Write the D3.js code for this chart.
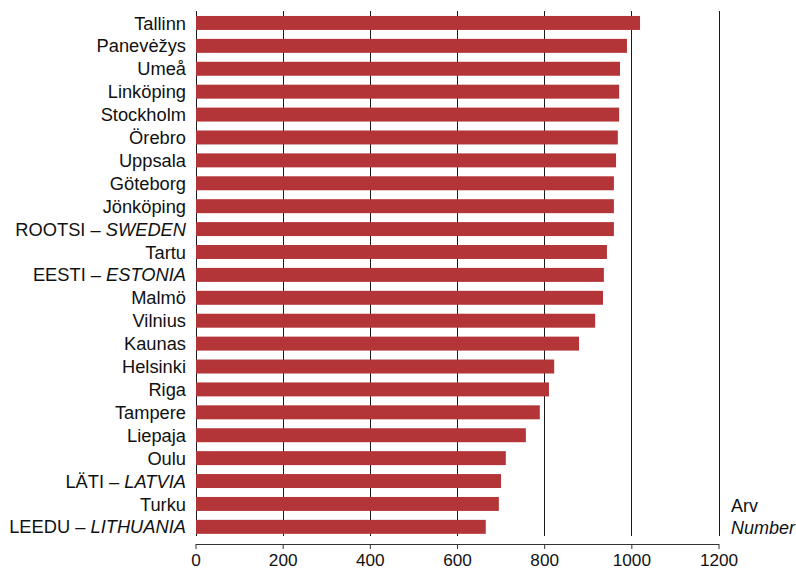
<!DOCTYPE html>
<html>
<head>
<meta charset="utf-8">
<script src="https://cdn.jsdelivr.net/npm/d3@7"></script>
<style>
  html, body { margin: 0; padding: 0; background: #fff; }
  svg { display: block; font-family: "Liberation Sans", Arial, sans-serif; }
</style>
</head>
<body>
<svg id="chart" width="796" height="570"></svg>
<script>
// Category names: [normal part, italic part]
const categories = [
  ["Tallinn", ""],
  ["Panevėžys", ""],
  ["Umeå", ""],
  ["Linköping", ""],
  ["Stockholm", ""],
  ["Örebro", ""],
  ["Uppsala", ""],
  ["Göteborg", ""],
  ["Jönköping", ""],
  ["ROOTSI – ", "SWEDEN"],
  ["Tartu", ""],
  ["EESTI – ", "ESTONIA"],
  ["Malmö", ""],
  ["Vilnius", ""],
  ["Kaunas", ""],
  ["Helsinki", ""],
  ["Riga", ""],
  ["Tampere", ""],
  ["Liepaja", ""],
  ["Oulu", ""],
  ["LÄTI – ", "LATVIA"],
  ["Turku", ""],
  ["LEEDU – ", "LITHUANIA"]
];
const values = [1020, 990, 974, 972, 972, 969, 965, 960, 960, 960, 944, 937, 935, 917, 880, 823, 811, 790, 758, 712, 701, 696, 666];
const xTicks = [0, 200, 400, 600, 800, 1000, 1200];
const unitLabel = ["Arv", "Number"];

const svg = d3.select("#chart");
const x = d3.scaleLinear().domain([0, 1200]).range([195.5, 718.5]);
const keys = categories.map(c => c[0] + c[1]);
const y = d3.scaleBand().domain(keys).range([11.5, 538.3]).paddingInner(0.39).paddingOuter(0.195);

// gridlines
svg.append("g").selectAll("line").data(xTicks).join("line")
  .attr("x1", d => Math.round(x(d)) + 0.5).attr("x2", d => Math.round(x(d)) + 0.5)
  .attr("y1", 11).attr("y2", 536)
  .attr("stroke", "#1a1a1a").attr("stroke-width", 1);

// bars
svg.append("g").selectAll("rect").data(values).join("rect")
  .attr("x", x(0) + 0.5)
  .attr("y", (d, i) => y(keys[i]))
  .attr("width", d => x(d) - x(0) - 0.5)
  .attr("height", y.bandwidth())
  .attr("fill", "#b33538");

// category labels
const lab = svg.append("g").selectAll("text").data(categories).join("text")
  .attr("x", 186)
  .attr("y", (d, i) => y(keys[i]) + y.bandwidth() / 2)
  .attr("dy", "0.36em")
  .attr("text-anchor", "end")
  .attr("font-size", 18.3)
  .attr("fill", "#111");
lab.append("tspan").text(d => d[0]);
lab.append("tspan").attr("font-style", "italic").text(d => d[1]);

// x axis
const axis = d3.axisBottom(x).tickValues(xTicks).tickSize(5).tickSizeOuter(0).tickFormat(d3.format("d"));
const ax = svg.append("g").attr("transform", "translate(0,544)").call(axis);
ax.select(".domain").attr("stroke", "#333");
ax.selectAll(".tick line").attr("stroke", "#333");
ax.selectAll(".tick text")
  .attr("font-size", 17.2)
  .attr("font-family", "'Liberation Sans', Arial, sans-serif")
  .attr("fill", "#111")
  .attr("y", 22).attr("dy", 0);

// unit label
svg.append("text").attr("x", 731).attr("y", 512).attr("font-size", 18).attr("fill", "#111").text(unitLabel[0]);
svg.append("text").attr("x", 731).attr("y", 534).attr("font-size", 18).attr("font-style", "italic").attr("fill", "#111").text(unitLabel[1]);
</script>
</body>
</html>
